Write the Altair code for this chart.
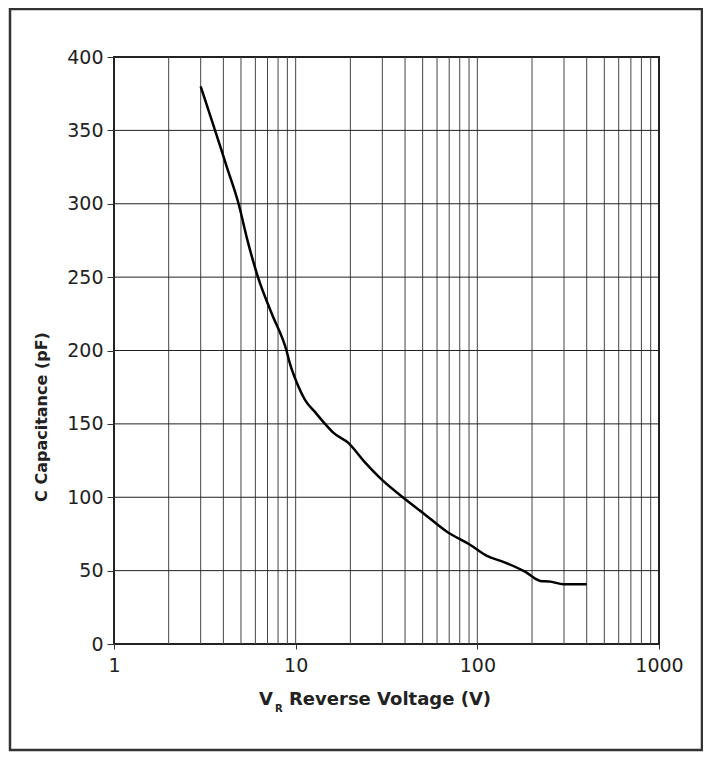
import altair as alt
import pandas as pd

# Curve (V_R in volts, C in pF)
voltage = [3.0, 3.6, 4.18, 4.85, 5.43, 6.2, 7.39, 8.9, 9.3, 10.15, 11.3,
           12.8, 14.5, 16.1, 19.5, 23.6, 29.8, 39.3, 50.6, 68.0, 91.5, 113.0,
           139.0, 183.0, 222.0, 253.0, 298.0, 400.0]
capacitance = [380, 350, 325, 300, 275, 250, 225, 200, 191, 178, 166,
               158, 150, 144, 137, 125, 112, 99.5, 89, 76.5, 67.5, 60,
               56, 49.3, 43, 42.5, 40.7, 40.7]

x_ticks = [1, 10, 100, 1000]
x_grid = [2, 3, 4, 5, 6, 7, 8, 9,
          10, 20, 30, 40, 50, 60, 70, 80, 90,
          100, 200, 300, 400, 500, 600, 700, 800, 900]
y_ticks = [0, 50, 100, 150, 200, 250, 300, 350, 400]
y_grid = [50, 100, 150, 200, 250, 300, 350]

W, H = 545, 587
FONT = "DejaVu Sans"

xs = alt.Scale(type="log", domain=[1, 1000], nice=False)
ys = alt.Scale(domain=[0, 400], nice=False)

xaxis = alt.Axis(values=x_ticks, format="d", title=None, grid=False,
                 domain=False, tickSize=5, tickColor="#333",
                 labelPadding=7, labelFont=FONT, labelFontSize=19,
                 labelColor="#222", labelFlush=False)
yaxis = alt.Axis(values=y_ticks, title=None, grid=False,
                 domain=False, tickSize=7, tickColor="#333",
                 labelPadding=4, labelFont=FONT, labelFontSize=19,
                 labelColor="#222")

one = pd.DataFrame({"a": [0]})

vgrid = alt.Chart(pd.DataFrame({"V": x_grid})).mark_rule(
    color="#444", strokeWidth=1
).encode(x=alt.X("V:Q", scale=xs, axis=xaxis))

hgrid = alt.Chart(pd.DataFrame({"C": y_grid})).mark_rule(
    color="#222", strokeWidth=1
).encode(y=alt.Y("C:Q", scale=ys, axis=yaxis))

curve = alt.Chart(pd.DataFrame({"V": voltage, "C": capacitance})).mark_line(
    color="black", strokeWidth=2.5, interpolate="monotone"
).encode(
    x=alt.X("V:Q", scale=xs, axis=xaxis),
    y=alt.Y("C:Q", scale=ys, axis=yaxis),
)

frame = alt.Chart(one).mark_rect(
    fillOpacity=0, stroke="#333", strokeWidth=2.5
).encode(x=alt.value(-104), x2=alt.value(588), y=alt.value(-48), y2=alt.value(693))

title_v = alt.Chart(one).mark_text(
    text="V", font=FONT, fontWeight="bold", fontSize=18, align="left",
    baseline="alphabetic", color="#222"
).encode(x=alt.value(145), y=alt.value(648))
title_sub = alt.Chart(one).mark_text(
    text="R", font=FONT, fontWeight="bold", fontSize=10, align="left",
    baseline="alphabetic", color="#222"
).encode(x=alt.value(161), y=alt.value(655))
title_rest = alt.Chart(one).mark_text(
    text="Reverse Voltage (V)", font=FONT, fontWeight="bold", fontSize=18,
    align="left", baseline="alphabetic", color="#222"
).encode(x=alt.value(175), y=alt.value(648))

title_y = alt.Chart(one).mark_text(
    text="C Capacitance (pF)", font=FONT, fontWeight="bold", fontSize=16,
    align="center", baseline="middle", angle=270, color="#222"
).encode(x=alt.value(-72), y=alt.value(360))

chart = alt.layer(
    vgrid, hgrid, curve, frame, title_v, title_sub, title_rest, title_y
).properties(
    width=W, height=H,
    autosize=alt.AutoSizeParams(type="none"),
    padding={"left": 106, "top": 49, "right": 44, "bottom": 110},
    background="white",
).configure_view(stroke="#222", strokeWidth=2)

chart.save("out.html", embed_options={"renderer": "svg", "actions": False})
